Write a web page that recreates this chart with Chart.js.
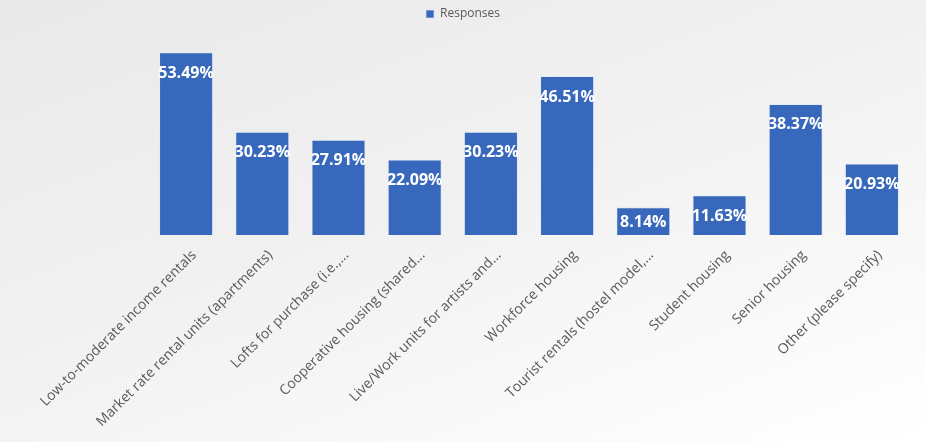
<!DOCTYPE html>
<html>
<head>
<meta charset="utf-8">
<script src="https://cdn.jsdelivr.net/npm/chart.js@4"></script>
<style>
  html, body { margin: 0; padding: 0; }
  body {
    width: 926px; height: 442px; overflow: hidden;
    background: linear-gradient(160deg, #e9e9e9 0%, #f1f1f1 45%, #ffffff 100%);
  }
  #wrap { position: relative; width: 926px; height: 442px; }
</style>
</head>
<body>
<div id="wrap"><canvas id="chart" width="926" height="442"></canvas></div>
<script>
const categories = [
  'Low-to-moderate income rentals',
  'Market rate rental units (apartments)',
  'Lofts for purchase (i.e.,...',
  'Cooperative housing (shared...',
  'Live/Work units for artists and...',
  'Workforce housing',
  'Tourist rentals (hostel model,...',
  'Student housing',
  'Senior housing',
  'Other (please specify)'
]
const responses = [53.49, 30.23, 27.91, 22.09, 30.23, 46.51, 8.14, 11.63, 38.37, 20.93]
const yMax = 60

// draws the value labels inside the top of each bar
const valueLabels = {
  id: 'valueLabels',
  afterDatasetsDraw(chart) {
    const ctx = chart.ctx
    const meta = chart.getDatasetMeta(0)
    ctx.save()
    ctx.font = 'bold 16px "Open Sans", sans-serif'
    ctx.fillStyle = '#ffffff'
    ctx.textAlign = 'center'
    ctx.textBaseline = 'middle'
    meta.data.forEach((bar, i) => {
      const h = bar.base - bar.y
      const y = bar.y + Math.min(21, h / 2 + 1)
      ctx.fillText(responses[i].toFixed(2) + '%', bar.x, y)
    })
    ctx.restore()
  }
}

const ctx = document.getElementById('chart').getContext('2d')
new Chart(ctx, {
  type: 'bar',
  data: {
    labels: categories,
    datasets: [{
      label: 'Responses',
      data: responses,
      backgroundColor: '#3768bb',
      borderColor: 'rgba(220,232,250,0.7)',
      borderWidth: 1,
      barPercentage: 0.71,
      categoryPercentage: 1
    }]
  },
  options: {
    responsive: false,
    animation: false,
    layout: { padding: 0 },
    plugins: {
      legend: {
        position: 'top',
        labels: {
          boxWidth: 8,
          boxHeight: 8,
          color: '#595959',
          font: { family: '"Open Sans", sans-serif', size: 12 },
          padding: 8
        }
      },
      tooltip: { enabled: false }
    },
    scales: {
      y: {
        display: false,
        min: 0,
        max: yMax
      },
      x: {
        grid: { display: false },
        border: { display: false },
        ticks: {
          minRotation: 45,
          maxRotation: 45,
          autoSkip: false,
          labelOffset: 8,
          color: '#595959',
          padding: 4,
          font: { family: '"Open Sans", sans-serif', size: 14 }
        },
        afterFit(scale) {
          scale.paddingLeft = 148
          scale.paddingRight = 16
          scale.height = 442 - 235
        }
      }
    }
  },
  plugins: [valueLabels]
})
</script>
</body>
</html>
